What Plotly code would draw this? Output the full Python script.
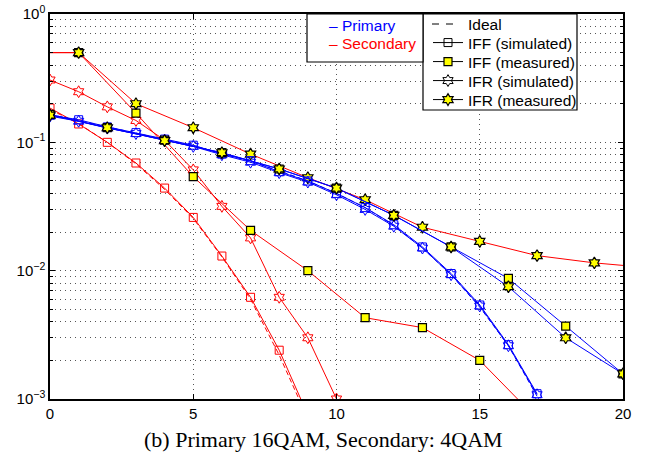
import plotly.graph_objects as go

# ---------------- data ----------------
snr_p = list(range(0, 18))
ideal_p = [0.165, 0.148, 0.131, 0.118, 0.105, 0.094, 0.082, 0.071, 0.060, 0.050,
           0.040, 0.031, 0.0225, 0.0150, 0.0093, 0.0052, 0.0026, 0.00105]
iff_sim_p = [0.163, 0.150, 0.132, 0.119, 0.106, 0.095, 0.081, 0.072, 0.059, 0.050,
             0.040, 0.031, 0.0228, 0.0153, 0.0095, 0.0054, 0.00265, 0.0011]
ifr_sim_p = [0.160, 0.146, 0.129, 0.117, 0.104, 0.093, 0.080, 0.070, 0.058, 0.049,
             0.039, 0.030, 0.0222, 0.0150, 0.0093, 0.0053, 0.0026, 0.00108]

snr_meas_p = [0, 2, 4, 6, 8, 10, 12, 14, 16, 18, 20]
iff_meas_p = [0.165, 0.130, 0.104, 0.083, 0.062, 0.044, 0.027, 0.0153, 0.0087, 0.0037, 0.00157]
ifr_meas_p = [0.163, 0.130, 0.103, 0.083, 0.062, 0.044, 0.027, 0.0153, 0.0075, 0.0030, 0.00157]

snr_ideal_s = list(range(0, 10))
ideal_s = [0.180, 0.140, 0.100, 0.068, 0.043, 0.0255, 0.0128, 0.0060, 0.0022, 0.0007]
iff_sim_s = [0.185, 0.139, 0.100, 0.069, 0.044, 0.026, 0.013, 0.0062, 0.0024, 0.00075]
snr_ifr_sim_s = list(range(0, 11))
ifr_sim_s = [0.306, 0.248, 0.189, 0.148, 0.104, 0.061, 0.0317, 0.018, 0.0062, 0.0030, 0.0010]

snr_iff_meas_s = [-1, 1, 3, 5, 7, 9, 11, 13, 15, 17]
iff_meas_s = [0.5, 0.5, 0.169, 0.054, 0.0206, 0.0100, 0.0043, 0.0036, 0.0020, 0.0007]
snr_ifr_meas_s = [-1, 1, 3, 5, 7, 9, 11, 13, 15, 17, 19, 21]
ifr_meas_s = [0.5, 0.5, 0.200, 0.130, 0.081, 0.053, 0.0357, 0.0218, 0.0169, 0.0131, 0.0115, 0.0105]

y_tick_vals = [0.001, 0.01, 0.1, 1]
y_tick_text = ["10<sup>\u22123</sup>", "10<sup>\u22122</sup>", "10<sup>\u22121</sup>", "10<sup>0</sup>"]
x_tick_vals = [0, 5, 10, 15, 20]

ideal_label = "Ideal"
legend_names = ["IFF (simulated)", "IFF (measured)", "IFR (simulated)", "IFR (measured)"]
caption = "(b) Primary 16QAM, Secondary: 4QAM"

BLUE = "#0000ff"
RED = "#ff0000"
YEL = "#ffff00"

fig = go.Figure()


def add(x, y, color, symbol=None, filled=False, dash="solid", msize=8):
    if symbol is None:
        mode = "lines"
        marker = None
    else:
        mode = "lines+markers"
        if filled:
            marker = dict(symbol=symbol, size=msize, color=YEL, line=dict(color="black", width=1.2))
        else:
            marker = dict(symbol=symbol + "-open", size=msize, color=color, line=dict(color=color, width=1))
    fig.add_trace(go.Scatter(x=x, y=y, mode=mode, line=dict(color=color, width=1, dash=dash),
                             marker=marker, showlegend=False, hoverinfo="skip"))


# secondary (red)
add(snr_ideal_s, ideal_s, RED, dash="5px,3px")
add(snr_ideal_s, iff_sim_s, RED, "square", msize=8)
add(snr_ifr_sim_s, ifr_sim_s, RED, "hexagram", msize=9)
add(snr_iff_meas_s, iff_meas_s, RED, "square", filled=True, msize=8)
add(snr_ifr_meas_s, ifr_meas_s, RED, "hexagram", filled=True, msize=9)
# primary (blue)
add(snr_p, ideal_p, BLUE, dash="5px,3px")
add(snr_p, iff_sim_p, BLUE, "square", msize=8)
add(snr_p, ifr_sim_p, BLUE, "hexagram", msize=9)
add(snr_meas_p, iff_meas_p, BLUE, "square", filled=True, msize=8)
add(snr_meas_p, ifr_meas_p, BLUE, "hexagram", filled=True, msize=9)

# pixel helpers for layout placement
FW, FH = 646, 454
L, R, T, B = 50, 623, 14, 399
W, H = R - L, B - T


def px_x(p):
    return (p - L) / W


def px_y(p):
    return (B - p) / H


# legend box
fig.add_shape(type="rect", xref="paper", yref="paper", x0=px_x(423), x1=px_x(577),
              y0=px_y(110), y1=px_y(14), line=dict(color="black", width=1.2),
              fillcolor="white", layer="above")
# "Ideal" row: dashed key line + label
fig.add_shape(type="line", xref="paper", yref="paper", x0=px_x(432), x1=px_x(454),
              y0=px_y(24), y1=px_y(24), line=dict(color="black", width=1, dash="7px,7px"),
              layer="above")
fig.add_annotation(xref="paper", yref="paper", x=px_x(466), y=px_y(24.5), xanchor="left",
                   yanchor="middle", showarrow=False, text=ideal_label,
                   font=dict(family="Liberation Sans, Arial", size=15.5, color="black"))

# other legend entries (black), one small legend per row
leg_styles = [
    dict(mode="lines+markers", line=dict(color="black", width=1),
         marker=dict(symbol="square-open", size=8, color="black")),
    dict(mode="lines+markers", line=dict(color="black", width=1),
         marker=dict(symbol="square", size=8, color=YEL, line=dict(color="black", width=1.2))),
    dict(mode="lines+markers", line=dict(color="black", width=1),
         marker=dict(symbol="hexagram-open", size=9, color="black")),
    dict(mode="lines+markers", line=dict(color="black", width=1),
         marker=dict(symbol="hexagram", size=9, color=YEL, line=dict(color="black", width=1.2))),
]
row_centers = [43, 62, 81, 100]
legend_layouts = {}
for i, (name, st, rc) in enumerate(zip(legend_names, leg_styles, row_centers)):
    key = "legend%d" % (i + 2)
    fig.add_trace(go.Scatter(x=[None], y=[None], name=name, legend=key, showlegend=True, **st))
    legend_layouts[key] = dict(x=px_x(428), y=px_y(rc), xanchor="left", yanchor="middle",
                               xref="paper", yref="paper", bgcolor="rgba(0,0,0,0)",
                               borderwidth=0,
                               font=dict(family="Liberation Sans, Arial", size=15.5, color="black"),
                               itemwidth=30)

# Primary / Secondary box
fig.add_shape(type="rect", xref="paper", yref="paper", x0=px_x(307), x1=px_x(423),
              y0=px_y(62), y1=px_y(14), line=dict(color="black", width=1.2),
              fillcolor="white", layer="above")
fig.add_annotation(xref="paper", yref="paper", x=px_x(327), y=px_y(25), xanchor="left",
                   yanchor="middle", showarrow=False, text="\u2013 Primary",
                   font=dict(family="Liberation Sans, Arial", size=15.5, color=BLUE))
fig.add_annotation(xref="paper", yref="paper", x=px_x(327), y=px_y(43.5), xanchor="left",
                   yanchor="middle", showarrow=False, text="\u2013 Secondary",
                   font=dict(family="Liberation Sans, Arial", size=15.5, color=RED))
fig.add_annotation(xref="paper", yref="paper", x=px_x(323), y=px_y(440), xanchor="center",
                   yanchor="middle", showarrow=False, text=caption,
                   font=dict(family="Liberation Serif, Times New Roman", size=22, color="black"))

grid = dict(gridcolor="#555555", griddash="1px,4px", gridwidth=1)

fig.update_layout(
    width=FW, height=FH,
    margin=dict(l=L, r=FW - R, t=T, b=FH - B),
    paper_bgcolor="white", plot_bgcolor="white",
    font=dict(family="Liberation Sans, Arial", size=15, color="black"),
    xaxis=dict(range=[0, 20], tickmode="array", tickvals=x_tick_vals, showgrid=True, **grid,
               zeroline=False, showline=True, linecolor="black", linewidth=1.5, mirror="ticks",
               ticks="inside", ticklen=5, tickcolor="black", tickfont=dict(size=15),
               automargin=False),
    yaxis=dict(type="log", range=[-3, 0], tickmode="array", tickvals=y_tick_vals, ticktext=y_tick_text,
               showgrid=True, **grid, zeroline=False, showline=True, linecolor="black", linewidth=1.5,
               mirror="ticks", ticks="inside", ticklen=5, tickcolor="black", tickfont=dict(size=15),
               automargin=False,
               minor=dict(tickmode="array",
                          tickvals=[m * 10 ** e for e in (-3, -2, -1) for m in range(2, 10)],
                          ticks="inside", ticklen=3, tickcolor="black", showgrid=True, **grid)),
    **legend_layouts,
)

fig.write_html("out.html", config={"displayModeBar": False},
               post_script="document.body.style.margin='0';")
